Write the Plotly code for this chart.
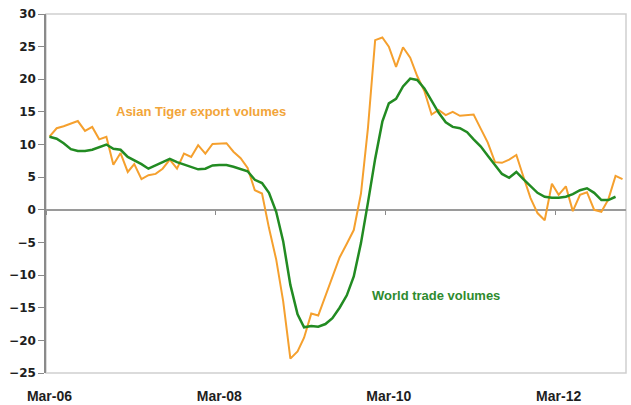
import pandas as pd
import plotly.graph_objects as go

# Monthly observations, Mar-2006 onwards (% y/y, 3m average)
start_month = "2006-03-01"

asian_tiger_exports = [
    11.2, 12.5, 12.8, 13.2, 13.6, 12.1, 12.7, 10.8, 11.2, 6.9,
    8.7, 5.8, 7.0, 4.7, 5.3, 5.5, 6.3, 7.7, 6.3, 8.6,
    8.1, 9.9, 8.6, 10.1, 10.1, 10.2, 8.9, 7.9, 6.4, 3.0,
    2.5, -2.8, -7.6, -14.0, -22.8, -21.7, -19.6, -15.9, -16.2, -13.3,
    -10.2, -7.3, -5.2, -3.1, 2.5, 12.5, 26.0, 26.4, 25.0, 21.9,
    24.9, 23.3, 20.5, 18.2, 14.6, 15.3, 14.5, 15.0, 14.4, 14.5,
    14.6, 12.4, 10.3, 7.3, 7.2, 7.7, 8.4, 5.1, 1.8, -0.5,
    -1.6, 4.0, 2.3, 3.6, -0.2, 2.3, 2.7, 0.0, -0.3, 1.6,
    5.2, 4.7,
]

world_trade = [
    11.2, 10.9, 10.2, 9.3, 9.0, 9.0, 9.2, 9.6, 10.0, 9.35,
    9.2, 8.1, 7.6, 7.0, 6.3, 6.8, 7.3, 7.8, 7.3, 6.9,
    6.6, 6.2, 6.3, 6.8, 6.85, 6.85, 6.6, 6.2, 5.9, 4.6,
    4.1, 2.6, -0.3, -4.8, -11.5, -16.0, -18.0, -17.8, -17.9, -17.5,
    -16.6, -15.0, -13.1, -10.2, -5.1, 1.1, 7.8, 13.5, 16.3, 17.0,
    18.9, 20.1, 19.9, 18.6, 16.7, 14.9, 13.4, 12.7, 12.5, 11.9,
    10.8, 9.7, 8.3, 6.8, 5.5, 4.9, 5.8, 4.7, 3.6, 2.6,
    2.0, 1.85, 1.85, 2.0, 2.4, 3.0, 3.3, 2.6, 1.5, 1.5,
    2.0,
]

tick_labels = ["Mar-06", "Mar-08", "Mar-10", "Mar-12"]
y_ticks = list(range(-25, 31, 5))

months = pd.date_range(start_month, periods=len(asian_tiger_exports), freq="MS")
half_month = pd.Timedelta(days=15)

# Labels sit on category centres, tick marks on category boundaries
label_dates = [pd.Timestamp(pd.to_datetime(t, format="%b-%y")) for t in tick_labels]
boundary_dates = [d - half_month for d in label_dates]

ORANGE = "#F5A02E"
GREEN = "#228B22"
AXIS_FONT = dict(family="Liberation Sans, Arial", size=14, color="#1e1e1e", weight="bold")

fig = go.Figure()

fig.add_trace(go.Scatter(
    x=months, y=asian_tiger_exports, mode="lines",
    line=dict(color=ORANGE, width=2), name="Asian Tiger export volumes",
    xaxis="x", yaxis="y",
))
fig.add_trace(go.Scatter(
    x=months[:len(world_trade)], y=world_trade, mode="lines",
    line=dict(color=GREEN, width=2.5), name="World trade volumes",
    xaxis="x", yaxis="y",
))

x_range = [months[0] - half_month, months[-1] + half_month]

fig.update_layout(
    width=631, height=405,
    margin=dict(l=46, r=5, t=14, b=32),
    paper_bgcolor="white", plot_bgcolor="white",
    showlegend=False,
    xaxis=dict(
        type="date", range=x_range,
        tickvals=label_dates, ticktext=tick_labels,
        ticks="outside", ticklen=10, tickcolor="rgba(0,0,0,0)",
        tickfont=AXIS_FONT,
        showgrid=False, zeroline=False, showline=False,
        automargin=False,
    ),
    # tick marks hanging off the zero line
    xaxis2=dict(
        type="date", range=x_range, overlaying="x", matches="x",
        anchor="free", position=25 / 55,
        tickvals=boundary_dates, showticklabels=False,
        ticks="outside", ticklen=4, tickwidth=1, tickcolor="#8a8a8a",
        showgrid=False, zeroline=False, showline=False,
    ),
    yaxis=dict(
        range=[-25, 30], tickvals=y_ticks,
        ticks="outside", ticklen=6, tickcolor="#8a8a8a", tickwidth=1,
        tickfont=dict(family="DejaVu Sans", size=12, color="#1e1e1e", weight="bold"),
        showgrid=False,
        zeroline=True, zerolinecolor="#9a9a9a", zerolinewidth=1.5,
        showline=True, linecolor="#8a8a8a", linewidth=1.5,
        automargin=False,
    ),
    shapes=[dict(
        type="rect", xref="x domain", yref="y domain",
        x0=0, x1=1, y0=0, y1=1,
        line=dict(color="#cfcfcf", width=1.5), layer="below",
    )],
    annotations=[
        dict(
            x=pd.Timestamp("2006-12-05"), y=15.0, xref="x", yref="y",
            text="Asian Tiger export volumes", showarrow=False,
            xanchor="left", yanchor="middle",
            font=dict(family="Liberation Sans, Arial", size=13, color="#F2A53A", weight="bold"),
        ),
        dict(
            x=pd.Timestamp("2009-12-12"), y=-13.1, xref="x", yref="y",
            text="World trade volumes", showarrow=False,
            xanchor="left", yanchor="middle",
            font=dict(family="Liberation Sans, Arial", size=13, color="#2E8B2E", weight="bold"),
        ),
    ],
)

# empty trace so the overlaid axis is drawn
fig.add_trace(go.Scatter(x=[], y=[], xaxis="x2", yaxis="y", showlegend=False))

fig.write_html("out.html")
